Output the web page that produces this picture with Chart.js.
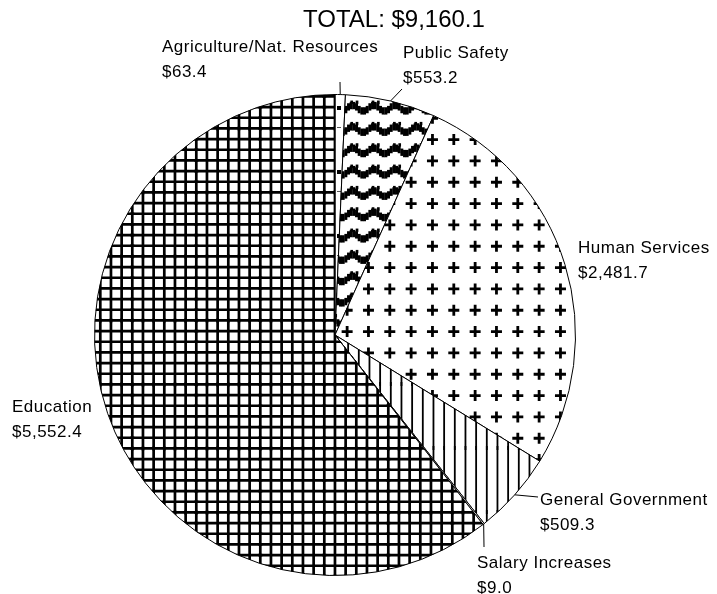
<!DOCTYPE html>
<html lang="en">
<head>
    <meta charset="UTF-8">
    <title>Budget Pie</title>
    <script src="https://cdn.jsdelivr.net/npm/chart.js"></script>
    <style>
        body {
            margin: 0;
            padding: 0;
            background: #fff;
        }
        #pieChart {
            display: block;
        }
    </style>
</head>
<body>
    <canvas id="pieChart" width="717" height="594"></canvas>

    <script>
        // data, clockwise from 12 o'clock
        const categories = ['Agriculture/Nat. Resources', 'Public Safety', 'Human Services',
                            'General Government', 'Salary Increases', 'Education'];
        const amounts = [63.4, 553.2, 2481.7, 509.3, 9.0, 5552.4];
        const totalText = 'TOTAL: $9,160.1';

        // where each label goes: text left/baseline, leader line end (null = none)
        const labelPos = [
            { x: 162, y: 52, lineTo: [340, 82] },
            { x: 403, y: 58, lineTo: [402, 89] },
            { x: 578, y: 253, lineTo: null },
            { x: 540, y: 505, lineTo: [538, 497] },
            { x: 477, y: 568, lineTo: [484, 547] },
            { x: 12, y: 412, lineTo: null }
        ];

        const U = 64 / 3; // pattern cell (21.33px)

        function makePattern(draw, ox, oy) {
            const c = document.createElement('canvas');
            c.width = 64;
            c.height = 64;
            const g = c.getContext('2d');
            g.fillStyle = '#fff';
            g.fillRect(0, 0, 64, 64);
            g.fillStyle = '#000';
            g.strokeStyle = '#000';
            for (let dx = -64; dx <= 64; dx += 64) {
                for (let dy = -64; dy <= 64; dy += 64) {
                    g.save();
                    g.translate(ox + dx, oy + dy);
                    draw(g);
                    g.restore();
                }
            }
            return g.createPattern(c, 'repeat');
        }

        const dotsPat = makePattern(g => {
            for (let i = 0; i < 3; i++)
                for (let j = 0; j < 3; j++)
                    g.fillRect(i * U, j * U, 4, 4);
        }, 17, 106);

        const wavePat = makePattern(g => {
            const s = U / 16;
            for (let i = 0; i < 3; i++) {
                for (let j = 0; j < 3; j++) {
                    for (let k = 0; k < 8; k++) {
                        const yc = Math.round(8 - 2.5 * Math.sin(2 * Math.PI * (k + 0.5) / 8));
                        g.fillRect(i * U + k * 2 * s, j * U + (yc - 2.5) * s, 2 * s + 0.3, 5.5 * s);
                    }
                    // little teeth on the hump
                    g.fillRect(i * U + 2.5 * s, j * U + 2.5 * s, 2 * s, 2.5 * s);
                    g.fillRect(i * U + 6.5 * s, j * U + 2.5 * s, 2 * s, 2.5 * s);
                }
            }
        }, 5.7, 11.9);

        const plusPat = makePattern(g => {
            g.lineWidth = 2.8;
            g.beginPath();
            for (let i = 0; i < 3; i++) {
                for (let j = 0; j < 3; j++) {
                    const cx = i * U, cy = j * U;
                    g.moveTo(cx - 5.5, cy);
                    g.lineTo(cx + 5.5, cy);
                    g.moveTo(cx, cy - 5.5);
                    g.lineTo(cx, cy + 5.5);
                }
            }
            g.stroke();
        }, 5.8, 11.6);

        const vlinePat = makePattern(g => {
            g.lineWidth = 1.8;
            g.beginPath();
            for (let i = 0; i < 6; i++) {
                g.moveTo(i * U / 2, -2);
                g.lineTo(i * U / 2, 66);
            }
            g.stroke();
        }, 6.8, 0);

        const gridPat = makePattern(g => {
            g.lineWidth = 2.7;
            g.beginPath();
            for (let i = 0; i < 6; i++) {
                g.moveTo(i * U / 2, -2);
                g.lineTo(i * U / 2, 66);
                g.moveTo(-2, i * U / 2);
                g.lineTo(66, i * U / 2);
            }
            g.stroke();
        }, 4.3, 0.4);

        const fills = [dotsPat, wavePat, plusPat, vlinePat, '#ffffff', gridPat];

        function money(v) {
            return '$' + v.toLocaleString('en-US', { minimumFractionDigits: 1, maximumFractionDigits: 1 });
        }

        const labelPlugin = {
            id: 'pieLabels',
            afterDraw(chart) {
                const ctx = chart.ctx;
                const arcs = chart.getDatasetMeta(0).data;
                ctx.save();
                ctx.fillStyle = '#000';
                ctx.strokeStyle = '#000';
                ctx.lineWidth = 1;
                ctx.textBaseline = 'alphabetic';
                ctx.textAlign = 'left';

                ctx.font = '24px "Liberation Sans", Arial, sans-serif';
                ctx.fillText(totalText, 303, 27);

                ctx.font = '17px "Liberation Sans", Arial, sans-serif';
                if ('letterSpacing' in ctx) ctx.letterSpacing = '0.5px';
                arcs.forEach((arc, i) => {
                    const p = labelPos[i];
                    const { x, y, startAngle, endAngle, outerRadius } =
                        arc.getProps(['x', 'y', 'startAngle', 'endAngle', 'outerRadius'], true);
                    if (p.lineTo) {
                        const mid = (startAngle + endAngle) / 2;
                        ctx.beginPath();
                        ctx.moveTo(x + Math.cos(mid) * outerRadius, y + Math.sin(mid) * outerRadius);
                        ctx.lineTo(p.lineTo[0], p.lineTo[1]);
                        ctx.stroke();
                    }
                    ctx.fillText(categories[i], p.x, p.y);
                    ctx.fillText(money(amounts[i]), p.x, p.y + 25);
                });
                ctx.restore();
            }
        };

        new Chart(document.getElementById('pieChart'), {
            type: 'pie',
            data: {
                labels: categories,
                datasets: [{
                    data: amounts,
                    backgroundColor: fills,
                    borderColor: '#000',
                    borderWidth: 1
                }]
            },
            options: {
                responsive: false,
                animation: false,
                layout: {
                    padding: { left: 94, right: 141, top: 94, bottom: 18 }
                },
                plugins: {
                    legend: { display: false },
                    tooltip: { enabled: false }
                }
            },
            plugins: [labelPlugin]
        });
    </script>
</body>
</html>
